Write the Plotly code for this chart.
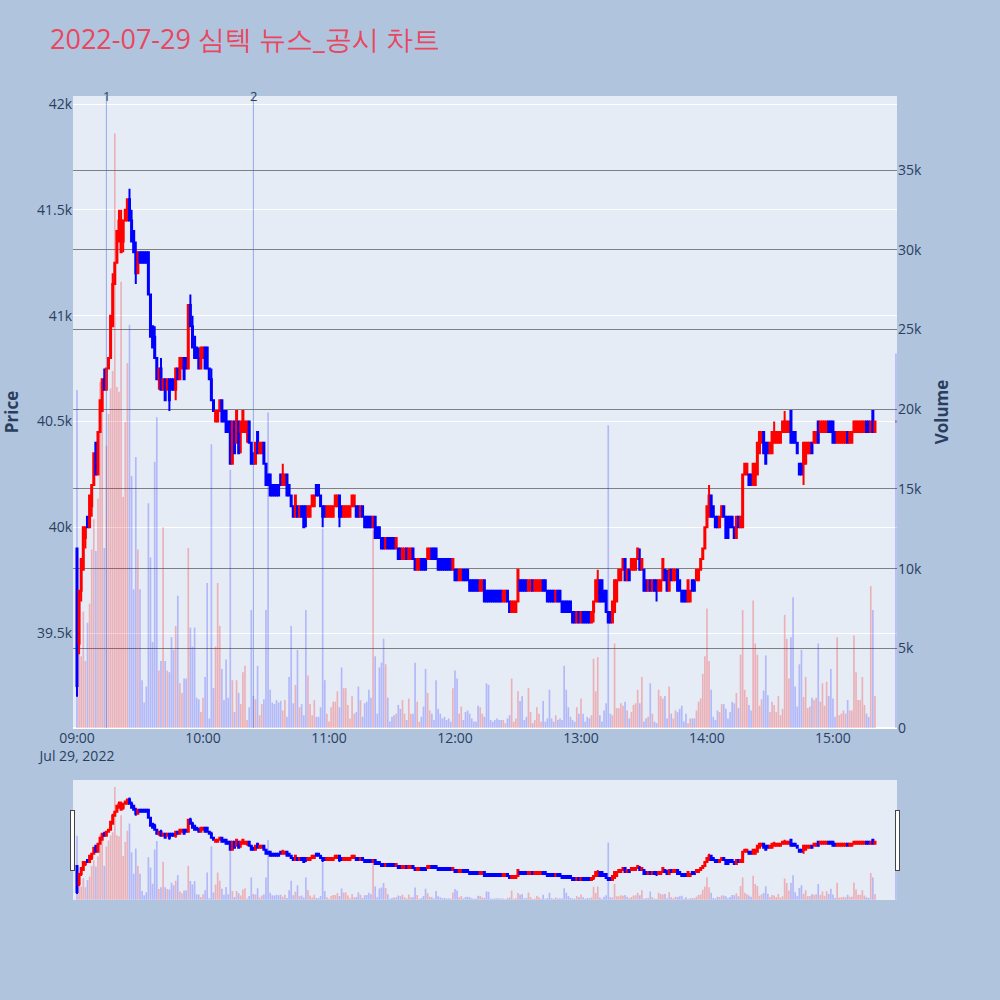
import pandas as pd
import plotly.graph_objects as go
from plotly.subplots import make_subplots

TITLE = "2022-07-29 심텍 뉴스_공시 차트"

# minute bars 09:00 .. 15:20, then the closing auction bar at 15:30
TIMES = list(pd.date_range("2022-07-29 09:00", periods=381, freq="min")) + [pd.Timestamp("2022-07-29 15:30")]

OPEN = [
    39900, 39450, 39700, 39800, 39950, 40050, 40000, 40100, 40200, 40400,
    40250, 40450, 40550, 40700, 40650, 40750, 40800, 40950, 41150, 41250,
    41350, 41300, 41350, 41450, 41450, 41550, 41450, 41400, 41300, 41200,
    41300, 41300, 41300, 41300, 41300, 41100, 40950, 40900, 40800, 40700,
    40750, 40650, 40700, 40650, 40700, 40700, 40700, 40650, 40750, 40700,
    40750, 40800, 40800, 40750, 41050, 40950, 40900, 40850, 40800, 40750,
    40800, 40850, 40850, 40750, 40700, 40600, 40500, 40500, 40550, 40600,
    40550, 40550, 40500, 40500, 40300, 40500, 40400, 40500, 40450, 40450,
    40450, 40450, 40500, 40400, 40350, 40300, 40450, 40350, 40350, 40400,
    40300, 40250, 40250, 40200, 40200, 40200, 40200, 40250, 40200, 40200,
    40250, 40200, 40150, 40100, 40050, 40100, 40050, 40100, 40100, 40100,
    40050, 40050, 40100, 40100, 40200, 40200, 40150, 40100, 40100, 40050,
    40050, 40050, 40050, 40100, 40100, 40150, 40100, 40050, 40050, 40050,
    40050, 40100, 40100, 40100, 40100, 40050, 40100, 40050, 40050, 40050,
    40050, 40000, 40050, 40000, 40000, 39950, 39950, 39900, 39950, 39950,
    39950, 39950, 39900, 39900, 39900, 39850, 39850, 39900, 39850, 39850,
    39900, 39850, 39800, 39800, 39850, 39850, 39850, 39850, 39850, 39900,
    39900, 39900, 39850, 39850, 39850, 39850, 39850, 39850, 39850, 39800,
    39800, 39800, 39750, 39750, 39800, 39800, 39800, 39750, 39750, 39750,
    39750, 39750, 39700, 39700, 39750, 39700, 39700, 39700, 39700, 39700,
    39700, 39700, 39700, 39650, 39650, 39700, 39650, 39600, 39600, 39600,
    39650, 39750, 39750, 39750, 39750, 39700, 39700, 39750, 39700, 39700,
    39700, 39700, 39750, 39750, 39700, 39700, 39700, 39700, 39650, 39700,
    39700, 39650, 39650, 39650, 39650, 39650, 39600, 39600, 39550, 39600,
    39550, 39600, 39600, 39600, 39600, 39550, 39600, 39650, 39650, 39750,
    39750, 39700, 39700, 39600, 39600, 39550, 39600, 39650, 39750, 39750,
    39800, 39850, 39750, 39800, 39800, 39800, 39800, 39850, 39850, 39800,
    39800, 39750, 39700, 39750, 39700, 39750, 39750, 39700, 39700, 39750,
    39800, 39750, 39700, 39800, 39750, 39750, 39800, 39750, 39700, 39700,
    39700, 39650, 39650, 39750, 39750, 39750, 39750, 39800, 39850, 39900,
    40000, 40050, 40150, 40100, 40050, 40050, 40000, 40050, 40100, 40050,
    40050, 40050, 40050, 40000, 39950, 40050, 40000, 40000, 40250, 40250,
    40250, 40250, 40200, 40200, 40250, 40350, 40400, 40450, 40400, 40400,
    40350, 40350, 40400, 40400, 40400, 40400, 40450, 40450, 40450, 40450,
    40550, 40450, 40450, 40400, 40300, 40300, 40300, 40300, 40350, 40350,
    40400, 40400, 40400, 40500, 40450, 40450, 40450, 40450, 40500, 40500,
    40500, 40450, 40400, 40400, 40400, 40400, 40400, 40450, 40400, 40400,
    40450, 40450, 40450, 40450, 40450, 40450, 40500, 40500, 40450, 40550,
    40450,
    40500,
]

HIGH = [
    39900, 39700, 39850, 40000, 40000, 40050, 40150, 40200, 40350, 40400,
    40450, 40600, 40700, 40750, 40750, 40800, 41000, 41200, 41250, 41400,
    41500, 41500, 41450, 41500, 41550, 41600, 41500, 41400, 41350, 41300,
    41300, 41300, 41300, 41300, 41300, 41100, 40950, 40950, 40800, 40750,
    40800, 40700, 40700, 40700, 40700, 40700, 40700, 40750, 40750, 40800,
    40800, 40800, 40800, 41050, 41100, 41000, 40900, 40850, 40850, 40850,
    40850, 40850, 40850, 40750, 40750, 40600, 40550, 40550, 40600, 40600,
    40550, 40550, 40500, 40500, 40500, 40500, 40550, 40500, 40500, 40550,
    40500, 40500, 40500, 40400, 40350, 40400, 40450, 40400, 40400, 40400,
    40300, 40250, 40250, 40200, 40200, 40200, 40200, 40250, 40300, 40250,
    40250, 40200, 40150, 40100, 40150, 40100, 40100, 40100, 40100, 40100,
    40100, 40100, 40150, 40150, 40200, 40200, 40150, 40100, 40100, 40100,
    40100, 40100, 40100, 40150, 40150, 40150, 40100, 40100, 40100, 40100,
    40100, 40150, 40150, 40100, 40100, 40100, 40100, 40050, 40050, 40050,
    40050, 40050, 40050, 40000, 40000, 39950, 39950, 39950, 39950, 39950,
    39950, 39950, 39950, 39900, 39900, 39900, 39900, 39900, 39900, 39900,
    39900, 39850, 39850, 39850, 39850, 39850, 39850, 39900, 39900, 39900,
    39900, 39900, 39850, 39850, 39850, 39850, 39850, 39850, 39850, 39850,
    39800, 39800, 39800, 39800, 39800, 39800, 39800, 39750, 39750, 39750,
    39750, 39750, 39750, 39750, 39750, 39700, 39700, 39700, 39700, 39700,
    39700, 39700, 39700, 39700, 39700, 39700, 39650, 39650, 39650, 39650,
    39800, 39750, 39750, 39750, 39750, 39750, 39750, 39750, 39750, 39750,
    39750, 39750, 39750, 39750, 39700, 39700, 39700, 39700, 39700, 39700,
    39700, 39650, 39650, 39650, 39650, 39650, 39600, 39600, 39600, 39600,
    39600, 39600, 39600, 39600, 39600, 39600, 39650, 39750, 39800, 39750,
    39750, 39700, 39700, 39600, 39600, 39650, 39750, 39750, 39800, 39800,
    39850, 39850, 39800, 39800, 39850, 39850, 39850, 39900, 39900, 39850,
    39800, 39750, 39750, 39750, 39750, 39750, 39750, 39750, 39750, 39850,
    39800, 39800, 39800, 39800, 39800, 39800, 39800, 39750, 39700, 39700,
    39700, 39750, 39700, 39750, 39750, 39800, 39800, 39850, 39900, 40000,
    40100, 40200, 40150, 40100, 40050, 40050, 40050, 40100, 40100, 40050,
    40050, 40050, 40050, 40000, 40050, 40050, 40050, 40250, 40300, 40300,
    40250, 40250, 40300, 40300, 40400, 40450, 40450, 40450, 40400, 40400,
    40400, 40450, 40500, 40450, 40450, 40450, 40500, 40550, 40500, 40500,
    40550, 40450, 40450, 40400, 40300, 40300, 40400, 40400, 40400, 40400,
    40400, 40450, 40450, 40500, 40500, 40500, 40500, 40500, 40500, 40500,
    40500, 40450, 40450, 40450, 40450, 40450, 40450, 40450, 40450, 40450,
    40500, 40500, 40500, 40500, 40500, 40500, 40500, 40500, 40500, 40550,
    40500,
    40500,
]

LOW = [
    39200, 39400, 39650, 39800, 39900, 40000, 40000, 40050, 40200, 40250,
    40250, 40450, 40550, 40650, 40650, 40750, 40800, 40950, 41150, 41250,
    41350, 41300, 41300, 41450, 41450, 41450, 41350, 41300, 41150, 41200,
    41250, 41250, 41250, 41250, 41100, 40900, 40850, 40800, 40700, 40650,
    40650, 40650, 40600, 40650, 40550, 40650, 40650, 40600, 40700, 40700,
    40750, 40700, 40750, 40750, 40950, 40850, 40800, 40800, 40750, 40750,
    40800, 40750, 40750, 40700, 40600, 40550, 40500, 40500, 40550, 40500,
    40500, 40450, 40450, 40300, 40300, 40350, 40400, 40350, 40350, 40450,
    40450, 40400, 40400, 40300, 40300, 40300, 40350, 40350, 40350, 40300,
    40200, 40200, 40150, 40150, 40150, 40150, 40150, 40200, 40200, 40200,
    40150, 40150, 40100, 40050, 40050, 40050, 40050, 40050, 40000, 40000,
    40050, 40050, 40100, 40100, 40150, 40150, 40100, 40000, 40050, 40050,
    40050, 40050, 40050, 40100, 40100, 40000, 40050, 40050, 40050, 40050,
    40050, 40100, 40100, 40050, 40050, 40050, 40050, 40000, 40000, 40000,
    40000, 40000, 39950, 39950, 39950, 39900, 39900, 39900, 39900, 39900,
    39900, 39900, 39900, 39850, 39850, 39850, 39850, 39850, 39850, 39850,
    39850, 39800, 39800, 39800, 39800, 39800, 39800, 39850, 39850, 39850,
    39850, 39850, 39800, 39800, 39800, 39800, 39800, 39800, 39800, 39800,
    39750, 39750, 39750, 39750, 39750, 39750, 39750, 39700, 39700, 39700,
    39700, 39700, 39700, 39700, 39650, 39650, 39650, 39650, 39650, 39650,
    39650, 39650, 39650, 39650, 39650, 39650, 39600, 39600, 39600, 39600,
    39650, 39700, 39700, 39700, 39700, 39700, 39700, 39700, 39700, 39700,
    39700, 39700, 39700, 39700, 39650, 39650, 39650, 39650, 39650, 39650,
    39650, 39600, 39600, 39600, 39600, 39600, 39550, 39550, 39550, 39550,
    39550, 39550, 39550, 39550, 39550, 39550, 39550, 39650, 39650, 39650,
    39650, 39650, 39600, 39550, 39550, 39550, 39600, 39650, 39750, 39750,
    39800, 39750, 39750, 39750, 39800, 39800, 39800, 39850, 39800, 39800,
    39700, 39700, 39700, 39700, 39700, 39700, 39650, 39700, 39700, 39750,
    39750, 39700, 39700, 39750, 39750, 39750, 39700, 39700, 39650, 39650,
    39650, 39650, 39650, 39700, 39700, 39750, 39750, 39800, 39850, 39900,
    40000, 40050, 40050, 40050, 40000, 40000, 40000, 40050, 40050, 39950,
    39950, 40000, 40000, 39950, 39950, 40000, 40000, 40000, 40250, 40250,
    40200, 40200, 40200, 40200, 40250, 40350, 40400, 40350, 40300, 40350,
    40350, 40350, 40400, 40400, 40400, 40400, 40450, 40450, 40450, 40450,
    40400, 40400, 40400, 40350, 40250, 40250, 40200, 40300, 40350, 40350,
    40350, 40400, 40400, 40400, 40450, 40450, 40450, 40450, 40450, 40450,
    40400, 40400, 40400, 40400, 40400, 40400, 40400, 40400, 40400, 40400,
    40450, 40450, 40450, 40450, 40450, 40450, 40450, 40450, 40450, 40450,
    40450,
    40500,
]

CLOSE = [
    39250, 39700, 39850, 40000, 40000, 40000, 40150, 40200, 40350, 40250,
    40450, 40600, 40700, 40650, 40750, 40800, 41000, 41150, 41250, 41400,
    41450, 41450, 41450, 41500, 41550, 41450, 41350, 41300, 41200, 41300,
    41250, 41250, 41250, 41250, 41100, 40900, 40850, 40800, 40700, 40750,
    40650, 40700, 40600, 40700, 40600, 40650, 40650, 40750, 40700, 40800,
    40800, 40700, 40750, 41050, 40950, 40850, 40800, 40800, 40750, 40850,
    40850, 40750, 40750, 40700, 40600, 40550, 40550, 40550, 40600, 40500,
    40500, 40450, 40450, 40300, 40500, 40350, 40550, 40350, 40500, 40550,
    40500, 40500, 40400, 40300, 40300, 40400, 40350, 40400, 40400, 40300,
    40200, 40200, 40150, 40150, 40150, 40150, 40150, 40200, 40250, 40250,
    40150, 40150, 40100, 40050, 40150, 40050, 40100, 40050, 40000, 40050,
    40100, 40100, 40150, 40150, 40150, 40150, 40100, 40050, 40050, 40100,
    40100, 40100, 40100, 40150, 40150, 40050, 40050, 40100, 40100, 40100,
    40100, 40150, 40150, 40050, 40050, 40100, 40050, 40000, 40000, 40000,
    40000, 40050, 39950, 39950, 39950, 39900, 39900, 39950, 39900, 39900,
    39900, 39900, 39950, 39850, 39850, 39900, 39900, 39850, 39900, 39900,
    39850, 39800, 39850, 39850, 39800, 39800, 39800, 39900, 39900, 39850,
    39850, 39850, 39800, 39800, 39800, 39800, 39800, 39800, 39800, 39850,
    39750, 39750, 39800, 39800, 39750, 39750, 39750, 39700, 39700, 39700,
    39700, 39700, 39750, 39750, 39650, 39650, 39650, 39650, 39650, 39650,
    39650, 39650, 39650, 39700, 39700, 39650, 39600, 39650, 39650, 39650,
    39800, 39700, 39700, 39700, 39700, 39750, 39750, 39700, 39750, 39750,
    39750, 39750, 39700, 39700, 39650, 39650, 39650, 39650, 39700, 39650,
    39650, 39600, 39600, 39600, 39600, 39600, 39550, 39550, 39600, 39550,
    39600, 39550, 39550, 39550, 39550, 39600, 39650, 39750, 39750, 39650,
    39650, 39650, 39600, 39550, 39550, 39650, 39750, 39750, 39800, 39800,
    39850, 39750, 39800, 39750, 39850, 39850, 39850, 39900, 39800, 39850,
    39700, 39700, 39750, 39700, 39750, 39700, 39700, 39750, 39750, 39850,
    39750, 39700, 39800, 39750, 39800, 39800, 39700, 39700, 39650, 39650,
    39650, 39750, 39700, 39700, 39700, 39800, 39800, 39850, 39900, 40000,
    40100, 40150, 40050, 40050, 40000, 40000, 40050, 40100, 40050, 39950,
    39950, 40000, 40000, 39950, 40050, 40000, 40050, 40250, 40300, 40300,
    40200, 40200, 40300, 40300, 40400, 40450, 40450, 40350, 40300, 40350,
    40400, 40450, 40450, 40450, 40450, 40450, 40500, 40500, 40500, 40500,
    40400, 40400, 40400, 40350, 40250, 40250, 40400, 40400, 40400, 40400,
    40350, 40450, 40450, 40400, 40500, 40500, 40500, 40500, 40450, 40450,
    40400, 40400, 40450, 40450, 40450, 40450, 40450, 40400, 40450, 40450,
    40500, 40500, 40500, 40500, 40500, 40500, 40450, 40450, 40500, 40450,
    40500,
    40500,
]

VOLUME = [
    21200, 5100, 4500, 7300, 4200, 6600, 7800, 11200, 13100, 11100,
    14400, 21700, 20400, 11300, 17700, 19700, 21300, 22400, 37300, 21400,
    21100, 28000, 14500, 19200, 22900, 25300, 15800, 8700, 17000, 11200,
    8700, 3000, 1600, 2600, 14100, 10700, 5400, 16700, 19500, 3600,
    4200, 12600, 4200, 3600, 3500, 5700, 4900, 6400,
    8300, 2800, 2200, 3100, 3100, 11300, 6300, 5100, 6300, 1900,
    1800, 1000, 1900, 3200, 9100, 600, 17800, 2500, 5100, 9100,
    6400, 3700, 1750, 4300, 1900, 16200, 3000, 1000, 3000, 2200,
    1500, 3500, 3900, 500, 1300, 7400, 2000, 1800, 3900, 800,
    1500, 1800, 7400, 19800, 2400, 1600, 1500,
    1750, 1600, 1700, 1100, 1750, 700, 3200, 6400, 1550, 2700,
    4900, 1300, 1500, 800, 7400, 3300, 1500, 800, 1750, 700,
    700, 1300, 12500, 3000, 900, 400, 1300, 1650, 1650, 2300,
    1300, 3800, 2500, 2500, 1450, 600, 2000, 900, 1000, 2600,
    1750, 700, 1550, 1650, 2400, 1900, 12400, 4500,
    900, 3800, 4100, 5600, 4000, 1900, 400, 700, 800, 900,
    1450, 1200, 1750, 900, 500, 1850, 900, 900, 4100, 1650,
    400, 700, 1350, 3700, 2200, 1100, 900, 500, 3000, 1200,
    900, 600, 700, 500, 600, 400, 2500, 3600, 3100, 900,
    1350, 500, 1000, 1100, 900, 600, 400,
    400, 1400, 1300, 900, 700, 2800, 2700, 500, 400, 500,
    600, 500, 500, 500, 300, 600, 800, 3100, 400, 600,
    2300, 1700, 2000, 500, 700, 2500, 1000, 300, 500, 1300,
    900, 400, 1700, 400, 600, 2400, 600, 400, 800, 500,
    600, 500, 3900, 2400, 1300, 700, 500, 400,
    1300, 900, 1850, 900, 400, 700, 600, 800, 4350, 2300,
    4450, 800, 400, 1100, 1550, 19000, 900, 800, 5300, 1250,
    1250, 1550, 1400, 1650, 1100, 600, 1000, 1450, 1550, 2400,
    1550, 3200, 400, 600, 700, 2800, 900, 400, 300, 2400,
    2000, 1850, 2000, 600, 2600, 900, 600, 1100,
    1000, 1200, 1400, 400, 900, 300, 600, 600, 600, 1100,
    1650, 1850, 3400, 4500, 7500, 4200, 2400, 700, 500, 1100,
    1000, 1500, 1500, 1200, 600, 1000, 1650, 1550, 2200, 1250,
    4600, 7400, 2400, 1950, 1450, 1100, 8000, 5300, 4600, 1400,
    1800, 2350, 4550, 2050, 1000, 1650, 1450,
    1000, 2000, 800, 1200, 7100, 5600, 3100, 5700, 8200, 2600,
    1350, 4000, 4900, 1950, 3200, 1250, 1350, 1900, 1750, 1900,
    5300, 1650, 2800, 1400, 2900, 2000, 3700, 1850, 700, 5700,
    800, 900, 1100, 900, 1750, 1100, 1100, 5800, 3500, 1750,
    1750, 3200, 1450, 900, 700, 8900, 7400, 2000,
    23500,
]

NEWS_TIMES = ["2022-07-29 09:14:00", "2022-07-29 10:24:00"]
NEWS_LABELS = ["1", "2"]

X_RANGE = ["2022-07-29 08:58:06", "2022-07-29 15:30:30"]
PRICE_RANGE = [39052, 42038]
VOLUME_RANGE = [0, 39650]

vol_colors = ["rgba(255,0,0,0.25)" if c > o else "rgba(0,0,255,0.22)" for o, c in zip(OPEN, CLOSE)]

fig = make_subplots(specs=[[{"secondary_y": True}]])
fig.add_trace(
    go.Candlestick(
        x=TIMES, open=OPEN, high=HIGH, low=LOW, close=CLOSE,
        increasing=dict(line=dict(color="red"), fillcolor="red"),
        decreasing=dict(line=dict(color="blue"), fillcolor="blue"),
        showlegend=False, name="price",
    ),
    secondary_y=False,
)
fig.add_trace(
    go.Bar(x=TIMES, y=VOLUME, marker=dict(color=vol_colors, line=dict(width=0)),
           showlegend=False, name="volume"),
    secondary_y=True,
)

for t, lab in zip(NEWS_TIMES, NEWS_LABELS):
    fig.add_shape(type="line", xref="x", yref="paper", x0=t, x1=t, y0=0, y1=1,
                  line=dict(color="rgba(65,105,225,0.5)", width=1))
    fig.add_annotation(x=t, xref="x", y=1, yref="paper", text=lab, showarrow=False,
                       xanchor="center", yanchor="middle", font=dict(size=13, color="#2a3f5f"))

fig.update_layout(
    width=1000, height=1000,
    template="plotly",
    font=dict(size=14),
    paper_bgcolor="#B0C4DE",
    plot_bgcolor="#E5ECF6",
    margin=dict(l=73, r=103, t=96, b=100),
    title=dict(text=TITLE, x=0.05, xanchor="left", y=0.96, yanchor="middle",
               font=dict(size=27, color="#E8475F")),
    showlegend=False,
)
fig.update_xaxes(
    domain=[0, 1],
    range=X_RANGE, showgrid=False, automargin=False,
    rangeslider=dict(visible=True, thickness=0.149, bgcolor="#E5ECF6", range=X_RANGE),
)
fig.update_yaxes(title_text="<b>Price</b>", range=PRICE_RANGE, automargin=False,
                 secondary_y=False)
fig.update_yaxes(title_text="<b>Volume</b>", range=VOLUME_RANGE, showgrid=True,
                 gridcolor="gray", automargin=False, secondary_y=True)

fig.write_html(
    "out.html",
    config={"displayModeBar": False},
    post_script="document.body.style.margin='0';document.body.style.background='#B0C4DE';",
)
